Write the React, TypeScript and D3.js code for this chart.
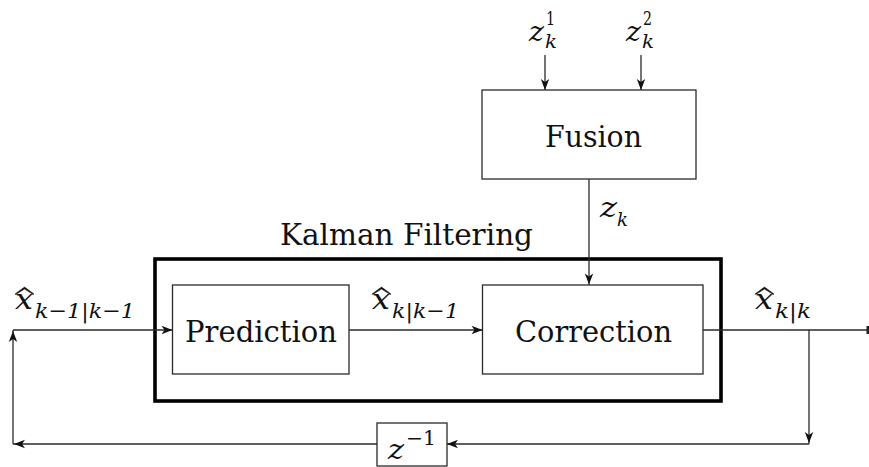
import React, { useEffect, useRef } from "react";
import * as d3 from "d3";

// Diagram content
const blockLabels = ["Fusion", "Prediction", "Correction"];
const groupLabel = "Kalman Filtering";
const inputSuperscripts = ["1", "2"];
const estimateSubscripts = ["k\u22121|k\u22121", "k|k\u22121", "k|k"];
const delaySuperscript = "\u22121";

// Layout geometry (pixels)
const G = {
  fusion: { x0: 482, x1: 696, y0: 90, y1: 179 },
  pred: { x0: 172.5, x1: 349, y0: 285, y1: 374 },
  corr: { x0: 482.5, x1: 703, y0: 285, y1: 374 },
  kalman: { x0: 155, x1: 721, y0: 259, y1: 401 },
  delay: { x0: 377, x1: 447, y0: 423, y1: 466 },
  mainY: 330,
  fbY: 444,
  leftX: 13,
  splitX: 809,
  fusionInX: [545, 641],
  fusionInTop: 55,
  fusionOutX: 589,
};

const SERIF = "'DejaVu Serif', serif";
const LINE = "#2a2a2a";

export default function App() {
  const ref = useRef<SVGSVGElement>(null);

  useEffect(() => {
    const svg = d3.select(ref.current);
    svg.selectAll("*").remove();
    const g = svg.append("g");

    const line = (pts: [number, number][], w = 1.3, color = LINE) => {
      g.append("path")
        .attr("d", d3.line()(pts))
        .attr("fill", "none")
        .attr("stroke", color)
        .attr("stroke-width", w);
    };
    const arrowHead = (x: number, y: number, dir: "r" | "l" | "u" | "d") => {
      const L = 11, H = 4.2, c = 3;
      const p = d3.path();
      const rot = { r: 0, d: 90, l: 180, u: 270 }[dir];
      p.moveTo(0, 0);
      p.lineTo(-L, -H);
      p.lineTo(-L + c, 0);
      p.lineTo(-L, H);
      p.closePath();
      g.append("path")
        .attr("d", p.toString())
        .attr("transform", `translate(${x},${y}) rotate(${rot})`)
        .attr("fill", "#111");
    };
    const rect = (b: { x0: number; x1: number; y0: number; y1: number }, w = 1.3, color = LINE) => {
      g.append("rect")
        .attr("x", b.x0)
        .attr("y", b.y0)
        .attr("width", b.x1 - b.x0)
        .attr("height", b.y1 - b.y0)
        .attr("fill", "white")
        .attr("stroke", color)
        .attr("stroke-width", w);
    };
    const text = (s: string, x: number, y: number, size: number, width: number, italic = false) => {
      g.append("text")
        .attr("x", x)
        .attr("y", y)
        .attr("font-family", SERIF)
        .attr("font-size", size)
        .attr("font-style", italic ? "italic" : "normal")
        .attr("textLength", width)
        .attr("lengthAdjust", "spacingAndGlyphs")
        .attr("fill", "#111")
        .text(s);
    };
    const hat = (x0: number, x1: number, yBase: number, yPeak: number) => {
      const m = (x0 + x1) / 2;
      const p = d3.path();
      p.moveTo(x0, yBase);
      p.lineTo(m, yPeak);
      p.lineTo(x1, yBase);
      p.lineTo(x1 - 0.8, yBase + 0.6);
      p.lineTo(m, yPeak + 2);
      p.lineTo(x0 + 0.8, yBase + 0.6);
      p.closePath();
      g.append("path").attr("d", p.toString()).attr("fill", "#111").attr("stroke", "#111").attr("stroke-width", 0.5);
    };
    const estimate = (x: number, sub: string, subW: number) => {
      hat(x, x + 19, 294, 287);
      text("x", x, 309, 28, 18, true);
      text(sub, x + 20, 318, 21, subW, true);
    };

    // Kalman thick box
    g.append("rect")
      .attr("x", G.kalman.x0)
      .attr("y", G.kalman.y0)
      .attr("width", G.kalman.x1 - G.kalman.x0)
      .attr("height", G.kalman.y1 - G.kalman.y0)
      .attr("fill", "none")
      .attr("stroke", "#000")
      .attr("stroke-width", 3.6);

    // Main signal line
    line([[G.leftX, G.mainY], [G.pred.x0, G.mainY]]);
    arrowHead(G.pred.x0, G.mainY, "r");
    line([[G.pred.x1, G.mainY], [G.corr.x0, G.mainY]]);
    arrowHead(G.corr.x0, G.mainY, "r");
    line([[G.corr.x1, G.mainY], [869, G.mainY]]);
    g.append("rect").attr("x", 866.5).attr("y", G.mainY - 4).attr("width", 2.5).attr("height", 8).attr("fill", "#222");

    // Feedback
    line([[G.splitX, G.mainY], [G.splitX, G.fbY]]);
    arrowHead(G.splitX, G.fbY - 1, "d");
    line([[G.splitX, G.fbY], [G.delay.x1, G.fbY]]);
    arrowHead(G.delay.x1, G.fbY, "l");
    line([[G.delay.x0, G.fbY], [G.leftX, G.fbY]]);
    arrowHead(G.leftX + 1, G.fbY, "l");
    line([[G.leftX, G.fbY], [G.leftX, G.mainY]]);
    arrowHead(G.leftX, G.mainY + 1, "u");

    // Fusion inputs / output
    G.fusionInX.forEach((x) => {
      line([[x, G.fusionInTop], [x, G.fusion.y0]]);
      arrowHead(x, G.fusion.y0, "d");
    });
    line([[G.fusionOutX, G.fusion.y1], [G.fusionOutX, G.corr.y0]]);
    arrowHead(G.fusionOutX, G.corr.y0 - 0.5, "d");

    // Boxes
    rect(G.fusion);
    rect(G.pred);
    rect(G.corr);
    rect(G.delay);

    // Block labels
    text(blockLabels[0], 545, 147, 30, 97);
    text(blockLabels[1], 185, 342, 30, 152);
    text(blockLabels[2], 515, 342, 30, 157);
    text(groupLabel, 280, 245, 30, 253);

    // Fusion inputs labels z_k^1, z_k^2
    [529, 626].forEach((x, i) => {
      text("z", x, 41, 28, 15, true);
      text(inputSuperscripts[i], x + 17, 25, 19, 9);
      text("k", x + 16, 48, 19, 12, true);
    });
    // z_k
    text("z", 600, 217, 28, 17, true);
    text("k", 617, 226, 19, 11, true);

    // Estimates
    estimate(15, estimateSubscripts[0], 100);
    estimate(372, estimateSubscripts[1], 67);
    estimate(755, estimateSubscripts[2], 36);

    // Delay z^-1
    text("z", 388, 459, 27, 16, true);
    text(delaySuperscript, 406, 445, 20, 30);
  }, []);

  return (
    <svg
      ref={ref}
      width={869}
      height={467}
      style={{ position: "absolute", left: 0, top: 0, background: "white" }}
    />
  );
}
